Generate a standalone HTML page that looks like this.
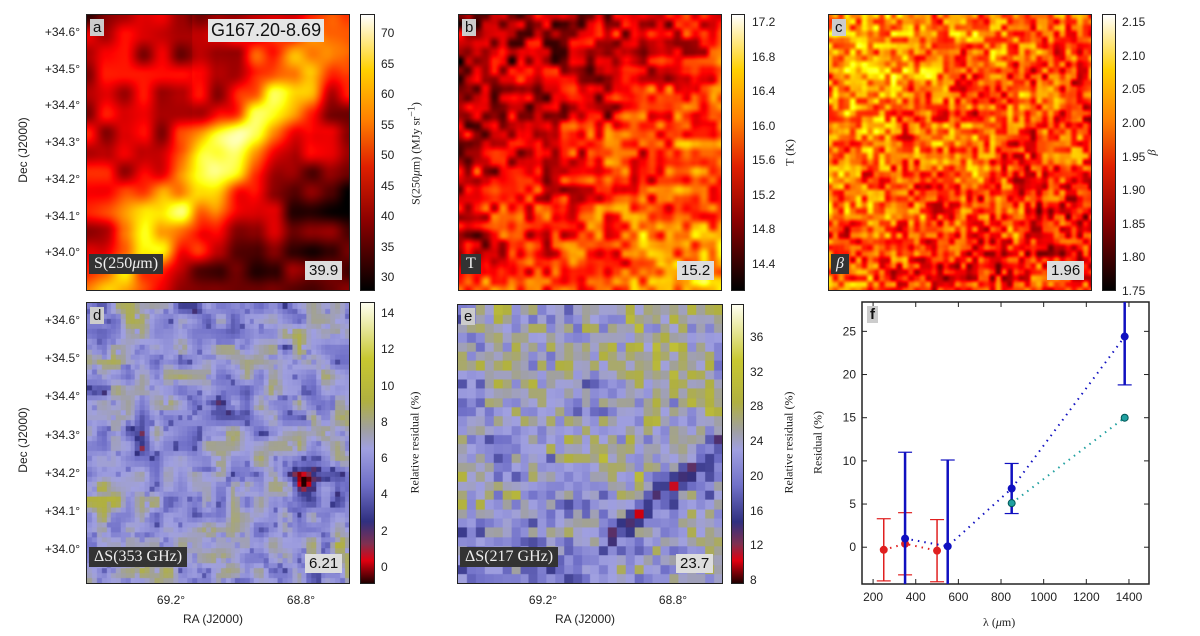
<!DOCTYPE html>
<html><head><meta charset="utf-8">
<style>
body{margin:0;background:#fff;width:1200px;height:636px;overflow:hidden;position:relative;font-family:"Liberation Sans",sans-serif;}
.abs{position:absolute}
canvas{position:absolute;border:1.5px solid #222;box-sizing:border-box}
.cb{position:absolute;border:1px solid #222;box-sizing:border-box}
.tk{position:absolute;font-size:12px;color:#222}
.lab{position:absolute;font-size:12px;color:#222;white-space:nowrap}
.serif{font-family:"Liberation Serif",serif}
.rot{transform:rotate(-90deg);transform-origin:center}
.lt{position:absolute;background:#ccc;font-size:15px;padding:0 3px;color:#111}
.dk{position:absolute;background:#333;color:#eee;font-family:"Liberation Serif",serif;font-size:16px;padding:1px 5px}
.vb{position:absolute;background:#ddd;font-size:15px;padding:1px 4px;color:#111}
</style></head><body>
<canvas id="ca" width="264" height="277" style="left:86px;top:14px;width:264px;height:277px"></canvas>
<canvas id="cb2" width="264" height="277" style="left:458px;top:14px;width:264px;height:277px"></canvas>
<canvas id="cc" width="264" height="277" style="left:828px;top:14px;width:264px;height:277px"></canvas>
<canvas id="cd" width="264" height="282" style="left:86px;top:302px;width:264px;height:282px"></canvas>
<canvas id="ce" width="266" height="280" style="left:457px;top:304px;width:266px;height:280px"></canvas>

<div class="cb" style="left:360px;top:14px;width:15px;height:277px;background:linear-gradient(to top,#000,#8b0000 25%,#e02000 45%,#ff8000 62%,#ffd000 80%,#fff)"></div>
<div class="cb" style="left:731px;top:14px;width:14px;height:277px;background:linear-gradient(to top,#000,#8b0000 25%,#e02000 45%,#ff8000 62%,#ffd000 80%,#fff)"></div>
<div class="cb" style="left:1102px;top:14px;width:14px;height:277px;background:linear-gradient(to top,#000,#8b0000 25%,#e02000 45%,#ff8000 62%,#ffd000 80%,#fff)"></div>
<div class="cb" style="left:360px;top:302px;width:15px;height:282px;background:linear-gradient(to top,#200000,#e00010 8%,#803050 14%,#303080 22%,#7070c8 35%,#a0a0e0 48%,#a0a0a0 55%,#b0b040 65%,#c8c830 80%,#fffff0)"></div>
<div class="cb" style="left:731px;top:304px;width:13px;height:280px;background:linear-gradient(to top,#200000,#e00010 8%,#803050 14%,#303080 22%,#7070c8 35%,#a0a0e0 48%,#a0a0a0 55%,#b0b040 65%,#c8c830 80%,#fffff0)"></div>

<div id="ticks"></div>

<svg class="abs" style="left:0;top:0" width="1200" height="636" id="fsvg"></svg>

<div class="lt" style="left:90px;top:19px">a</div>
<div class="lt" style="left:462px;top:19px">b</div>
<div class="lt" style="left:832px;top:19px">c</div>
<div class="lt" style="left:90px;top:307px">d</div>
<div class="lt" style="left:461px;top:308px">e</div>
<div class="lt" style="left:867px;top:306px;font-weight:bold">f</div>
<div class="vb" style="left:208px;top:19px;font-size:18px;padding:1px 3px;background:#e6e6e6">G167.20-8.69</div>
<div class="dk" style="left:89px;top:254px">S(250<i>μ</i>m)</div>
<div class="dk" style="left:461px;top:254px">T</div>
<div class="dk" style="left:831px;top:254px"><i>β</i></div>
<div class="dk" style="left:89px;top:547px">ΔS(353 GHz)</div>
<div class="dk" style="left:460px;top:547px">ΔS(217 GHz)</div>
<div class="vb" style="left:305px;top:261px">39.9</div>
<div class="vb" style="left:677px;top:261px">15.2</div>
<div class="vb" style="left:1047px;top:261px">1.96</div>
<div class="vb" style="left:305px;top:554px">6.21</div>
<div class="vb" style="left:676px;top:554px">23.7</div>

<div class="lab rot" style="left:-22px;top:143px;width:90px;text-align:center">Dec (J2000)</div>
<div class="lab rot" style="left:-22px;top:433px;width:90px;text-align:center">Dec (J2000)</div>
<div class="lab" style="left:183px;top:612px">RA (J2000)</div>
<div class="lab" style="left:555px;top:612px">RA (J2000)</div>
<div class="lab serif rot" style="left:345px;top:145px;width:140px;text-align:center;font-size:12px">S(250<i>μ</i>m) (MJy sr<sup>−1</sup>)</div>
<div class="lab serif rot" style="left:760px;top:145px;width:60px;text-align:center">T (K)</div>
<div class="lab serif rot" style="left:1132px;top:145px;width:40px;text-align:center"><i>β</i></div>
<div class="lab serif rot" style="left:350px;top:435px;width:130px;text-align:center">Relative residual (%)</div>
<div class="lab serif rot" style="left:724px;top:435px;width:130px;text-align:center">Relative residual (%)</div>
<div class="lab serif rot" style="left:778px;top:435px;width:80px;text-align:center">Residual (%)</div>
<div class="lab serif" style="left:983px;top:615px">λ (<i>μ</i>m)</div>

<script>
// ---------- Panel f data ----------
const redX=[250,350,500];
const redY=[-0.3,0.4,-0.4];
const redErr=[3.6,3.6,3.6];
const blueX=[350,550,850,1380];
const blueY=[1.0,0.1,6.8,24.4];
const blueErr=[10,10,2.9,5.6];
const tealX=[850,1380];
const tealY=[5.1,15.0];
const fXTicks=[200,400,600,800,1000,1200,1400];
const fYTicks=[0,5,10,15,20,25];

const NS='http://www.w3.org/2000/svg';
const svg=document.getElementById('fsvg');
const L=862,R=1149,T=302,B=584,xmin=148,xmax=1494,ymin=-4.26,ymax=28.4;
const fx=v=>L+(v-xmin)/(xmax-xmin)*(R-L);
const fy=v=>B-(v-ymin)/(ymax-ymin)*(B-T);
function el(tag,attrs){const e=document.createElementNS(NS,tag);for(const k in attrs)e.setAttribute(k,attrs[k]);svg.appendChild(e);return e;}
let fr=el('rect',{x:L,y:T,width:R-L,height:B-T,fill:'none',stroke:'#222','stroke-width':1.5});

fXTicks.forEach(v=>{
  el('line',{x1:fx(v),x2:fx(v),y1:B,y2:B-5,stroke:'#222'});el('line',{x1:fx(v),x2:fx(v),y1:T,y2:T+5,stroke:'#222'});
  const t=el('text',{x:fx(v),y:B+17,'text-anchor':'middle','font-size':12,fill:'#222','font-family':'Liberation Sans'});t.textContent=v;
  
});
fYTicks.forEach(v=>{
  el('line',{x1:L,x2:L+5,y1:fy(v),y2:fy(v),stroke:'#222'});el('line',{x1:R,x2:R-5,y1:fy(v),y2:fy(v),stroke:'#222'});
  const t=el('text',{x:L-6,y:fy(v)+4,'text-anchor':'end','font-size':12,fill:'#222','font-family':'Liberation Sans'});t.textContent=v;
  
});
function series(xs,ys,errs,col,name){
  const pts=xs.map((x,i)=>fx(x)+','+fy(ys[i])).join(' ');
  const pl=el('polyline',{points:pts,fill:'none',stroke:col,'stroke-width':2,'stroke-dasharray':'1.5 5'});
  
  xs.forEach((x,i)=>{
    if(errs){
      const lo=Math.max(ymin,ys[i]-errs[i]),hi=Math.min(ymax,ys[i]+errs[i]);
      const eb=el('line',{x1:fx(x),x2:fx(x),y1:fy(lo),y2:fy(hi),stroke:col,'stroke-width':name==='blue'?2.5:1.5});
      
      [ys[i]-errs[i],ys[i]+errs[i]].forEach(e=>{if(e>ymin&&e<ymax)el('line',{x1:fx(x)-7,x2:fx(x)+7,y1:fy(e),y2:fy(e),stroke:col,'stroke-width':1.2});});
    }
    const c=el('circle',{cx:fx(x),cy:fy(ys[i]),r:3.5,fill:col,stroke:name==='teal'?'#055':col});
    
  });
}
series(redX,redY,redErr,'#e02020','red');
series(blueX,blueY,blueErr,'#1010c0','blue');
series(tealX,tealY,null,'#20a0a0','teal');

// ---------- map ticks ----------
const tk=document.getElementById('ticks');
function txt(x,y,s,name,anchor){const d=document.createElement('div');d.className='tk';d.textContent=s;d.style.top=(y-7)+'px';
  if(anchor==='r'){d.style.right=(1200-x)+'px';}else if(anchor==='c'){d.style.left=(x-20)+'px';d.style.width='40px';d.style.textAlign='center';}else d.style.left=x+'px';
  tk.appendChild(d);}
const decLabels=['+34.6°','+34.5°','+34.4°','+34.3°','+34.2°','+34.1°','+34.0°'];
decLabels.forEach((s,i)=>{txt(80,32+i*36.7,s,'dec-tick','r');txt(80,320+i*38.2,s,'dec-tick','r');});
['69.2°','68.8°'].forEach((s,i)=>{txt(171+i*130,600,s,'ra-tick','c');txt(543+i*130,600,s,'ra-tick','c');});
function cbt(x,top,bot,vals,name){vals.forEach((v,i)=>txt(x,top+(bot-top)*i/(vals.length-1),v,name,'l'));}
cbt(381,33,277,['70','65','60','55','50','45','40','35','30'],'cbar-a-tick');
cbt(752,22,264,['17.2','16.8','16.4','16.0','15.6','15.2','14.8','14.4'],'cbar-b-tick');
cbt(1122,22,291,['2.15','2.10','2.05','2.00','1.95','1.90','1.85','1.80','1.75'],'cbar-c-tick');
cbt(381,313,567,['14','12','10','8','6','4','2','0'],'cbar-d-tick');
cbt(750,337,580,['36','32','28','24','20','16','12','8'],'cbar-e-tick');

// ---------- maps (procedural texture) ----------
let seed=7;function rnd(){seed=(seed*16807)%2147483647;return seed/2147483647;}
function grid(n){const g=[];for(let i=0;i<(n+1)*(n+1);i++)g.push(rnd());return g;}
function noise(g,n,u,v){const x=u*n,y=v*n,i=Math.min(n-1,Math.floor(x)),j=Math.min(n-1,Math.floor(y));let a=x-i,b=y-j;a=a*a*(3-2*a);b=b*b*(3-2*b);
  const p=(ii,jj)=>g[jj*(n+1)+ii];return p(i,j)*(1-a)*(1-b)+p(i+1,j)*a*(1-b)+p(i,j+1)*(1-a)*b+p(i+1,j+1)*a*b;}
function hot(t){t=Math.max(0,Math.min(1,t));return [Math.min(255,t*2.6*255),Math.max(0,Math.min(255,(t-0.38)*2.6*255)),Math.max(0,Math.min(255,(t-0.75)*4*255))];}
const stops=[[0,[32,0,0]],[0.08,[224,0,16]],[0.14,[128,48,80]],[0.22,[48,48,128]],[0.35,[112,112,200]],[0.48,[160,160,224]],[0.55,[160,160,160]],[0.65,[176,176,64]],[0.8,[200,200,48]],[1,[255,255,240]]];
function div(t){t=Math.max(0,Math.min(1,t));for(let k=1;k<stops.length;k++){if(t<=stops[k][0]){const a=stops[k-1],b=stops[k],f=(t-a[0])/(b[0]-a[0]);return a[1].map((c,m)=>c+(b[1][m]-c)*f);}}return stops[stops.length-1][1];}
function draw(id,fn,cmap,block){const c=document.getElementById(id),ctx=c.getContext('2d'),W=c.width,H=c.height,im=ctx.createImageData(W,H);
  for(let y=0;y<H;y++)for(let x=0;x<W;x++){let u=x/W,v=y/H;if(block){u=Math.floor(u*block)/block;v=Math.floor(v*block)/block;}
    const col=cmap(fn(u,v));const o=(y*W+x)*4;im.data[o]=col[0];im.data[o+1]=col[1];im.data[o+2]=col[2];im.data[o+3]=255;}
  ctx.putImageData(im,0,0);}
const g1=grid(6),g2=grid(14),g3=grid(30),g4=grid(45),g5=grid(20);
draw('ca',(u,v)=>{const w=0.06*(noise(g1,6,u,v)-0.5);const d=((v-0.9)+1.0*(u-0.15))/1.41+w;const band=Math.exp(-d*d/0.018);
  const along=Math.exp(-Math.pow((u-0.5)/0.35,2));
  return 0.3+0.5*band*(0.5+0.5*along)+0.28*(noise(g2,14,u,v)-0.5)+0.12*(noise(g1,6,u,v)-0.5)-0.12*Math.max(0,d)*3-0.1*(u<0.4&&v<0.45?1:0)*(0.45-v);},hot);
draw('cb2',(u,v)=>0.4+0.25*(u+v-1)+0.35*(noise(g3,30,u,v)-0.5)+0.2*(noise(g2,14,u,v)-0.5),hot);
draw('cc',(u,v)=>0.5-0.12*(u+v-1)+0.4*(noise(g4,45,u,v)-0.5)+0.2*(noise(g2,14,u,v)-0.5),hot);
draw('cd',(u,v)=>{let t=0.44+0.3*(noise(g5,20,u,v)-0.5)+0.22*(noise(g1,6,u,v)-0.5)+0.14*Math.max(0,v-0.65)*(1.2-u)*2;
  const dx=u-0.82,dy=v-0.63;t-=0.45*Math.exp(-(dx*dx+dy*dy)/0.0015);
  t-=0.2*Math.exp(-Math.pow(noise(g3,30,u,v)-0.5,2)/0.0015)*0.6;return t;},div,55);
draw('ce',(u,v)=>{let t=0.48+0.35*(noise(g4,45,u,v)-0.5)+0.2*(noise(g1,6,u,v)-0.5)+0.06*(u-v);
  const d=Math.abs((v-0.75)+0.8*(u-0.65));t-=0.3*Math.exp(-d*d/0.003)*(u>0.55?1:0.4);return t;},div,30);
</script>
</body></html>
